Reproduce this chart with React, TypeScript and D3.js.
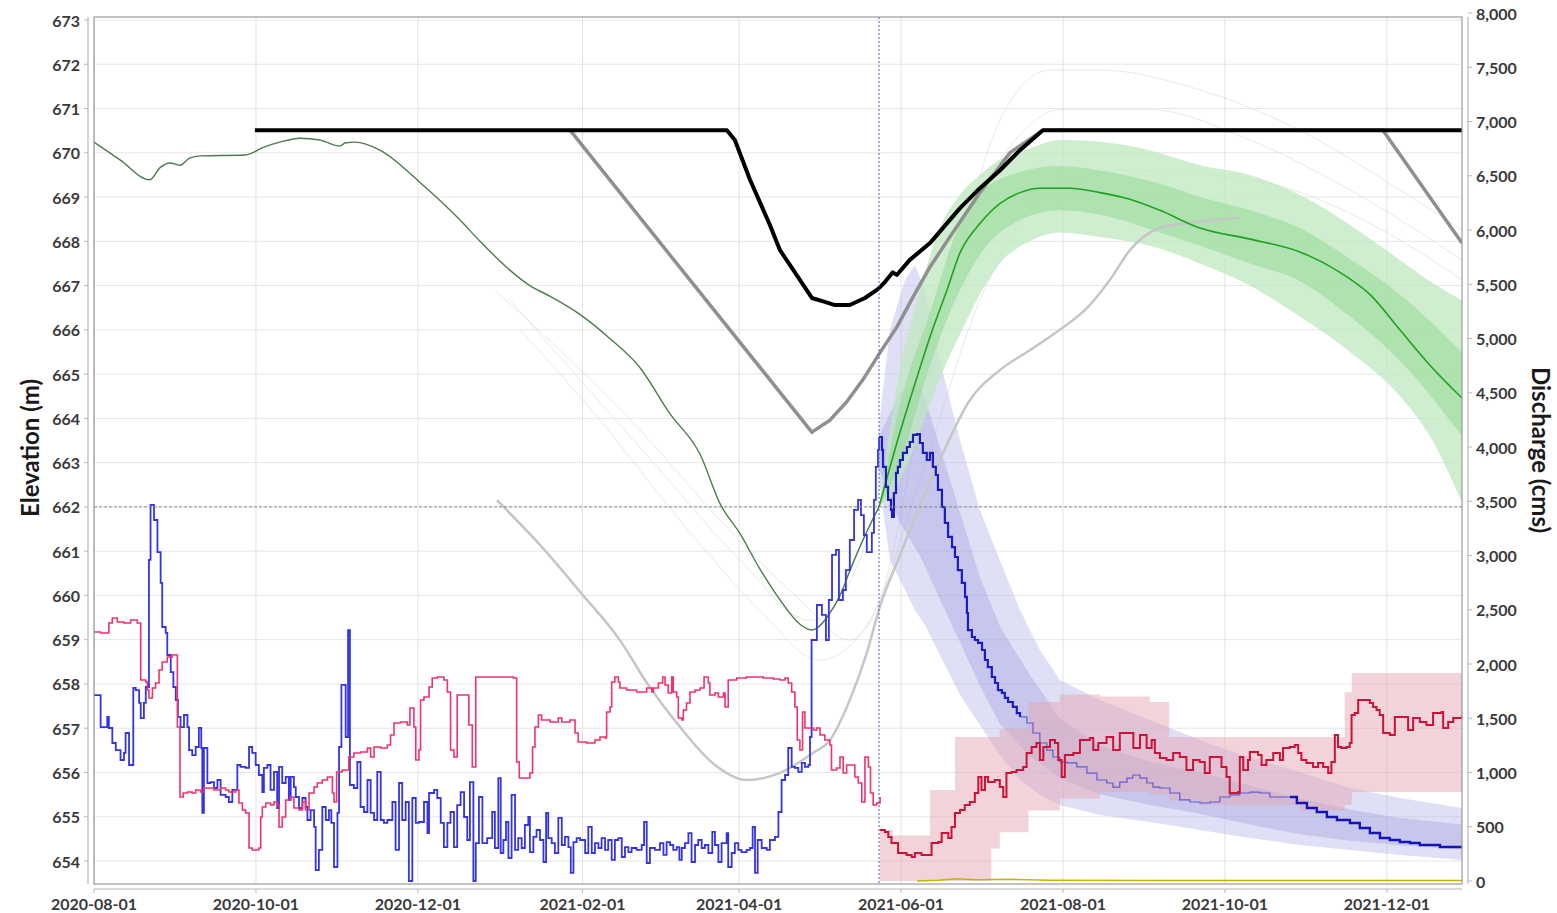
import React from "react";
import * as d3 from "d3";

type P = [number, number];
type B = [number, number, number];

const START = new Date(2020, 7, 1);
const END_DAY = 515.3;
const FORECAST_DAY = 295.7;
const REF_ELEV = 662;

const xTickDates = ["2020-08-01", "2020-10-01", "2020-12-01", "2021-02-01", "2021-04-01", "2021-06-01", "2021-08-01", "2021-10-01", "2021-12-01"];
const elevTicks = d3.range(654, 674);
const dischargeTicks = d3.range(0, 8001, 500);

// elevation (m) vs day offset
const elevObserved: P[] = [[0,670.24],[9.8,669.84],[21,669.39],[25,669.67],[28.6,669.77],[32.4,669.72],[36,669.88],[40,669.93],[57,669.95],[64,670.13],[70,670.24],[77.6,670.33],[85,670.29],[92.7,670.15],[94.5,670.22],[98.3,670.24],[107.7,670.06],[122.8,669.33],[137.9,668.48],[145.4,668.0],[164.2,667.0],[172,666.75],[183,666.35],[194.4,665.8],[205.6,665.15],[217,664.1],[228.2,663.2],[236,662.05],[243.3,661.4],[250.8,660.6],[258.4,659.9],[265.9,659.35],[270.4,659.22],[277.2,659.6],[281,660.0],[285,660.6],[290,661.3],[295.7,662.0]];
const elevMedian: P[] = [[295.7,662.0],[302.4,663.44],[308.5,664.64],[314.9,665.84],[321.3,666.9],[326.2,667.74],[333.7,668.4],[341.2,668.85],[348.8,669.1],[356.3,669.2],[367.6,669.2],[378.9,669.1],[390.2,668.95],[401.5,668.7],[416.6,668.3],[435.4,668.05],[454.2,667.76],[469.3,667.3],[480.6,666.8],[491.9,666.0],[503.2,665.2],[515.3,664.46]];
const elevBandOuter: B[] = [[295.7,662.0,662.0],[303.6,662.6,665.1],[311.1,663.7,666.9],[318.6,664.9,668.3],[326.2,665.9,669.05],[333.7,666.8,669.5],[341.2,667.5,669.84],[352.5,668.0,670.1],[363.8,668.2,670.29],[378.9,668.1,670.25],[397.7,667.9,670.06],[416.6,667.5,669.72],[435.4,667.0,669.5],[454.2,666.3,669.05],[473.1,665.5,668.37],[491.9,664.5,667.58],[503.2,663.6,667.1],[515.3,662.1,666.67]];
const elevBandInner: B[] = [[295.7,662.0,662.0],[303.6,663.0,664.3],[314.9,665.2,666.4],[326.2,666.9,668.4],[341.2,668.2,669.4],[363.8,668.7,669.7],[378.9,668.6,669.6],[401.5,668.2,669.3],[416.6,667.9,669.0],[435.4,667.5,668.7],[454.2,667.1,668.3],[473.1,666.3,667.6],[491.9,665.3,666.8],[515.3,663.6,665.5]];
const upperRuleCurve: P[] = [[60.6,670.51],[238.4,670.51],[241.4,670.29],[247.1,669.39],[254.6,668.37],[258.4,667.8],[265.9,667.13],[270.4,666.72],[275.3,666.63],[279.1,666.56],[284.7,666.56],[290.4,666.72],[295.3,666.92],[297.9,667.08],[300.9,667.3],[302.4,667.24],[307.3,667.58],[314.9,667.96],[326.2,668.75],[333.7,669.2],[341.2,669.6],[348.8,670.06],[357.4,670.51],[515.3,670.51]];
const lowerRuleCurve: P[] = [[179.3,670.51],[270.4,663.69],[277.2,663.96],[283.5,664.37],[289.6,664.87],[296.0,665.48],[302.4,666.06],[308.5,666.74],[314.9,667.42],[322.4,668.1],[333.7,669.1],[345,670.0],[357.4,670.51],[485.5,670.51],[515.3,667.96]];
const minimumCurve: P[] = [[151.8,662.15],[168,661.14],[183.1,660.08],[198.1,658.99],[208.3,658.02],[220.7,657.03],[233.1,656.21],[245.9,655.83],[258.4,655.99],[270.8,656.44],[277.2,656.73],[284.7,657.64],[291.1,658.7],[296,659.74],[303.6,660.91],[311.1,662.04],[318.6,663.06],[329.9,664.41],[341.2,665.09],[352.5,665.54],[363.8,666.0],[375.1,666.56],[382.7,667.13],[390.2,667.8],[401.5,668.3],[416.6,668.44],[431.6,668.53]];
const historic1: P[] = [[151,666.9],[175.5,665.54],[205.6,663.74],[235.8,661.7],[265.9,659.9],[284.7,658.99],[296,659.9],[311.1,663.96],[326.2,667.8],[341.2,670.74],[360.1,671.87],[378.9,671.87],[416.6,671.42],[454.2,670.51],[491.9,669.16],[515.3,668.26]];
const historic2: P[] = [[156.7,666.67],[183.1,664.87],[213.2,662.83],[243.3,660.8],[269.7,659.44],[288.5,660.8],[303.6,664.41],[322.4,667.8],[341.2,669.84],[363.8,670.97],[397.7,670.97],[435.4,670.29],[473.1,669.16],[515.3,667.58]];
const historic3: P[] = [[160.5,666.0],[190.6,663.96],[220.7,661.7],[250.8,659.67],[273.4,658.54],[292.3,659.44],[311.1,662.61],[333.7,666.67],[356.3,668.93],[386.4,669.61],[435.4,669.39],[491.9,668.03],[515.3,667.13]];

// discharge (cms) vs day offset
const inflowObserved: P[] = [[0,1714],[2.5,1419],[5,1512],[5.6,1410],[6.9,1272],[8.2,1207],[10,1115],[11.3,1180],[11.9,1364],[13.2,1069],[14.8,1779],[15.7,1760],[17,1641],[17.6,1502],[18.8,1641],[19.5,1788],[20.7,2959],[21.3,3466],[22.6,3327],[23.9,3032],[25.1,2747],[25.7,2341],[27,2286],[27.6,2083],[28.9,1926],[29.9,1788],[30.8,1668],[31.6,1512],[32.6,1419],[33.9,1530],[35.2,1419],[35.8,1207],[37,1161],[38.3,1235],[39.5,1410],[40.4,1226],[40.8,627],[41.4,1226],[42.7,903],[43.9,912],[45.2,857],[46.5,931],[47.7,793],[49.6,774],[50.8,728],[52.1,839],[54,1069],[55.2,1051],[57.1,1042],[58.4,1235],[59.6,1180],[60.9,1069],[62.1,977],[63.4,820],[64,1042],[65.3,1069],[66.5,839],[67.8,1005],[69,673],[69.7,1051],[70.9,903],[72.2,959],[73.4,747],[74.1,959],[75.3,866],[76,774],[77.2,673],[78.5,765],[79.7,682],[80.4,562],[81.6,654],[82.9,498],[83.5,101],[84.7,286],[86,682],[87.3,562],[88.5,654],[89.4,535],[90.4,129],[91.7,627],[92.3,1235],[93.2,1807],[94.8,1327],[95.7,2313],[96.4,885],[97.9,857],[99.2,1097],[100.4,682],[101.7,636],[103,931],[104.2,627],[105.5,562],[106.7,1005],[108,562],[109.2,535],[110.5,562],[112.4,728],[113.6,286],[114.9,903],[116.1,562],[117.4,728],[118.6,0],[119.9,765],[121.2,535],[122.4,544],[124.3,728],[125.6,442],[126.2,811],[128.1,839],[129.3,765],[130.6,535],[131.8,313],[133.1,535],[134.3,636],[135.6,313],[136.8,700],[138.1,820],[139.4,590],[140.6,378],[141.6,912],[142.9,0],[143.8,350],[145,774],[146.3,350],[148.1,396],[150,636],[151,304],[152.3,949],[153.2,258],[154.2,378],[155.2,544],[156.1,212],[157.3,793],[158.6,286],[159.8,396],[161.1,304],[162.3,516],[163.6,590],[164.2,267],[165.5,406],[166.7,470],[168,378],[169.3,175],[170.3,627],[171.1,396],[172.4,350],[173.6,258],[174.9,581],[176.2,332],[177.4,406],[178.7,313],[179.6,74],[180.6,359],[181.8,396],[183.1,378],[185,258],[186.2,498],[187.5,258],[188.7,350],[190,304],[191.2,396],[192.5,286],[193.7,378],[195,194],[196.2,378],[197.5,396],[198.8,221],[200,313],[201.3,267],[202.5,304],[204.4,286],[206.3,332],[207.2,544],[208.2,166],[209.4,304],[211.3,286],[213.2,350],[214.5,240],[215.7,359],[217,332],[218.2,286],[219.5,313],[220.5,194],[221.4,304],[222.6,350],[223.9,442],[225.1,175],[226.4,332],[227.6,378],[228.9,304],[230.1,332],[231.4,258],[232.9,452],[233.9,332],[235.2,175],[236.4,350],[238.3,442],[238.9,129],[240.2,258],[241.4,350],[242.7,286],[243.9,267],[245.8,286],[247.1,304],[248.1,498],[249,74],[250,378],[251.5,304],[253.4,286],[254.6,378],[256.5,406],[257.8,636],[259,931],[260.3,977],[261.5,1226],[262.8,1051],[264,1042],[265.3,1005],[266.6,1088],[267.8,1051],[269.1,1069],[269.7,1327],[270.3,2221],[272.3,2544],[274.2,2452],[275.7,2221],[276.8,2590],[278,3005],[279.5,3051],[280.6,2590],[282.1,2682],[283.2,2866],[284.7,3143],[286.3,3420],[287.8,3512],[288.9,3373],[290,3189],[291.1,3032],[293,3208],[293.8,3512],[294.5,3816],[295.3,3973],[295.7,4092]];
const inflowForecast: P[] = [[295.7,4092],[296.8,3973],[297.2,3816],[298.3,3632],[299.1,3512],[300.2,3420],[300.6,3355],[301.3,3576],[302.1,3761],[302.8,3816],[303.6,3880],[304.7,3945],[306.2,4000],[307.3,4046],[308.5,4111],[310,4120],[311.1,4037],[312.2,3945],[313.7,3880],[314.9,3945],[316,3816],[317.1,3742],[317.9,3604],[319.4,3447],[320.5,3300],[321.7,3171],[323.2,3078],[324.3,2986],[325.4,2866],[326.9,2747],[328.1,2618],[328.8,2470],[329.2,2313],[330.7,2249],[331.8,2221],[333,2194],[334.5,2129],[335.6,2037],[336.7,1972],[338.2,1880],[339.4,1825],[340.5,1760],[342,1733],[343.1,1687],[344.3,1650],[346.1,1604],[347.6,1548],[348.8,1512]];
const inflowForecastMid: P[] = [[348.8,1512],[351.4,1456],[353.7,1364],[356.3,1272],[358.9,1207],[361.2,1143],[363.8,1097],[366.5,1088],[370.2,1051],[374,995],[377.8,931],[381.5,903],[383.8,866],[386.4,912],[389.1,949],[391.3,977],[394,949],[396.6,903],[398.9,866],[401.5,857],[405.3,811],[409,747],[412.8,728],[416.6,719],[420.3,728],[424.1,774],[427.9,793],[431.6,811],[435.4,820],[439.2,811],[442.9,774],[446.7,774],[450.5,774]];
const inflowForecastEnd: P[] = [[450.5,774],[453.1,719],[456.9,673],[460.6,636],[464.4,590],[468.2,562],[473.1,535],[476.8,488],[480.6,442],[484.4,396],[488.1,378],[491.9,359],[495.7,350],[499.4,332],[503.2,332],[507,313],[510.7,313],[515.3,304]];
const inflowBandOuter: B[] = [[295.7,3700,4200],[299.8,2959,5079],[305.5,2682,5539],[309.2,2498,5678],[313,2360,5447],[318.6,2083,4802],[326.2,1714,4065],[333.7,1438,3420],[341.2,1161,2959],[348.8,931,2498],[356.3,793,2129],[363.8,700,1853],[378.9,608,1668],[397.7,544,1484],[416.6,470,1300],[435.4,396,1134],[454.2,332,1005],[473.1,286,857],[491.9,240,765],[515.3,194,673]];
const inflowBandInner: B[] = [[295.7,3800,4100],[303.6,3300,4500],[311.1,3000,4600],[318.6,2600,4000],[326.2,2200,3400],[333.7,1800,2800],[341.2,1450,2350],[352.5,1150,1900],[363.8,950,1500],[378.9,800,1250],[397.7,700,1100],[416.6,620,1000],[435.4,520,880],[454.2,430,760],[473.1,370,660],[491.9,330,580],[515.3,290,520]];
const outflowObserved: P[] = [[0,2295],[2.5,2286],[5.6,2378],[6.9,2424],[8.8,2387],[11.3,2378],[13.8,2406],[16.3,2378],[17.6,1853],[19.5,1834],[20.1,1760],[20.7,1687],[22,1779],[23.2,1825],[24.5,1945],[25.7,2019],[27.6,2065],[29.5,2083],[31.4,1419],[32.4,774],[33.6,811],[35.2,820],[37,811],[38.3,839],[40.2,820],[41.4,857],[45.2,839],[47.7,857],[49.6,839],[50.8,820],[53.4,839],[54.6,719],[55.9,654],[57.1,627],[58.4,304],[59.6,286],[62.1,304],[62.8,590],[63.4,682],[64.7,719],[66.5,700],[67.8,728],[69,700],[69.7,498],[70.9,590],[72.2,747],[74.1,774],[75.3,673],[77.2,654],[78.5,728],[79.7,654],[81,811],[82.9,866],[84.1,903],[86,931],[87.9,959],[89.8,811],[90.4,728],[91.4,1005],[93.5,1023],[96,1143],[97.9,1180],[100.4,1189],[103,1226],[104.2,1143],[105.5,1235],[108,1226],[110.5,1254],[111.7,1346],[113,1456],[115.5,1466],[118,1438],[119,1595],[120.5,1419],[121.2,1115],[122.4,1207],[123,1668],[124.3,1696],[126.2,1788],[127.4,1871],[129.3,1880],[131.8,1853],[133.1,1742],[134.3,1207],[135.6,1143],[136.8,1714],[139.4,1714],[141.2,1438],[142.5,1051],[143.8,1880],[158,1871],[159.2,1097],[160.2,949],[164.2,995],[165.2,1235],[166.1,1419],[167.4,1530],[168.6,1484],[171.8,1466],[174.9,1502],[176.2,1466],[179.3,1484],[181.2,1364],[182.4,1281],[185.6,1272],[188.7,1300],[190.6,1327],[192.5,1318],[193.1,1558],[194.4,1604],[195,1834],[196.2,1880],[197.5,1834],[198.1,1779],[200.6,1760],[204.4,1742],[208.2,1779],[210.1,1742],[210.7,1779],[212.6,1825],[214.2,1880],[215.1,1807],[216.3,1733],[217.6,1880],[218.2,1742],[219.5,1696],[220.1,1502],[221.4,1484],[222,1576],[223.2,1641],[224.5,1742],[226.4,1760],[228.3,1779],[229.8,1880],[231.4,1825],[232,1714],[233.9,1733],[235.2,1696],[237.1,1733],[237.7,1604],[238.9,1853],[240.8,1853],[242.1,1871],[245.8,1880],[252.1,1871],[255.9,1862],[258.4,1853],[260.3,1871],[261.5,1825],[262.8,1742],[264,1604],[264.9,1300],[265.9,1207],[266.9,1558],[267.8,1410],[271,1392],[272.2,1410],[273.5,1346],[275.3,1300],[277.2,1254],[277.8,1023],[279.7,1042],[281,1143],[282.2,995],[283.5,1069],[286.6,959],[287.9,903],[289.2,728],[290.4,1143],[291.7,1051],[292.5,811],[293.5,700],[294.8,719],[296.1,774]];
const outflowForecast: P[] = [[296,470],[297.9,452],[299.2,406],[300.4,350],[302.9,258],[306.1,240],[308,221],[309.2,258],[311.7,240],[313.6,240],[315.5,350],[318,359],[319.3,442],[321.8,396],[323,498],[324.3,627],[326.2,654],[328,700],[329.9,728],[331.8,811],[333.1,959],[334.3,839],[335.6,959],[336.8,912],[339.3,931],[341.2,866],[342.5,774],[343.7,995],[345.6,1005],[347.5,1023],[350,1051],[351.3,1180],[353.2,1235],[355,1272],[356.3,1115],[357.6,1235],[360.1,1300],[362,1272],[363.2,1115],[364.5,959],[365.7,1161],[368.9,1180],[371.4,1300],[375.1,1318],[376.4,1207],[378.3,1272],[381.4,1327],[383.9,1207],[386.4,1364],[390.2,1364],[391.5,1226],[394,1346],[396.5,1226],[398.4,1300],[399.6,1180],[401.5,1134],[404,1115],[406.5,1180],[409,1143],[411.5,1023],[414,1115],[416.5,1097],[418.4,995],[420.3,1143],[424.7,1051],[426.6,959],[427.8,811],[431,820],[431.6,1143],[432.9,1023],[434.7,1115],[435.4,1189],[438.5,1161],[439.8,1069],[441.6,1115],[444.2,1180],[446.7,1115],[447.9,1226],[450.4,1235],[452.3,1254],[453.6,1180],[454.8,1115],[456.7,1088],[459.2,1051],[461.1,1088],[463,1051],[464.9,995],[466.1,1097],[467.4,1346],[468.6,1235],[469.9,1226],[471.8,1235],[473,1272],[473.7,1530],[474.9,1548],[476.2,1668],[480.6,1641],[481.8,1604],[483.1,1576],[484.3,1530],[485.6,1364],[488.1,1346],[490,1512],[493.1,1512],[495,1392],[496.9,1502],[499.4,1466],[501.9,1438],[504.4,1548],[507.6,1558],[508.2,1410],[510.1,1466],[512,1502],[515.3,1530]];
const outflowBand: B[] = [[296,0,470],[300.9,0,420],[311.1,0,420],[314.9,0,839],[322.4,0,839],[324.3,0,1327],[333.7,0,1327],[338,300,1327],[341.2,450,1400],[352,650,1650],[363.8,760,1720],[378.9,820,1700],[397.7,800,1650],[405,740,1327],[416.6,700,1327],[454.2,650,1327],[469.3,650,1327],[471.1,700,1740],[473.8,820,1917],[515.3,820,1917]];
const spillFlow: P[] = [[310,0],[318,8],[325,20],[332,12],[345,15],[360,8],[400,5],[515.3,5]];

const PL = 94, PR = 1462, PT = 17, PB = 884;
const dayToDate = (d: number) => new Date(START.getTime() + d * 864e5);

export default function App() {
  const x = d3.scaleTime().domain([START, dayToDate(END_DAY)]).range([PL, PR]);
  const yL = d3.scaleLinear().domain([654, 673]).range([861, 20]);
  const yR = d3.scaleLinear().domain([0, 8000]).range([881, 13]);
  const fx = (d: number) => x(dayToDate(d));

  const lineL = d3.line<P>().x(d => fx(d[0])).y(d => yL(d[1]));
  const lineR = d3.line<P>().x(d => fx(d[0])).y(d => yR(d[1]));
  const stepR = d3.line<P>().x(d => fx(d[0])).y(d => yR(d[1])).curve(d3.curveStepAfter);
  const smoothL = d3.line<P>().x(d => fx(d[0])).y(d => yL(d[1])).curve(d3.curveMonotoneX);
  const areaL = d3.area<B>().x(d => fx(d[0])).y0(d => yL(d[1])).y1(d => yL(d[2])).curve(d3.curveMonotoneX);
  const areaR = d3.area<B>().x(d => fx(d[0])).y0(d => yR(d[1])).y1(d => yR(d[2]));
  const areaRStep = d3.area<B>().x(d => fx(d[0])).y0(d => yR(d[1])).y1(d => yR(d[2])).curve(d3.curveStepAfter);

  const font = "Lato, 'Open Sans', sans-serif";
  const tickColor = "#3a3a3a";
  const fxDate = d3.timeFormat("%Y-%m-%d");
  const tickDates = xTickDates.map(s => d3.timeParse("%Y-%m-%d")(s) as Date);
  const xF = x(dayToDate(FORECAST_DAY));

  return (
    <svg width={1557} height={913} style={{ position: "absolute", left: 0, top: 0, display: "block", background: "#fff" }}>
      <defs>
        <clipPath id="plot"><rect x={PL} y={PT} width={PR - PL} height={PB - PT} /></clipPath>
      </defs>
      {/* grid */}
      {elevTicks.map(t => (
        <line key={"gh" + t} x1={PL} x2={PR} y1={yL(t)} y2={yL(t)} stroke="#e6e6e6" strokeWidth={1} />
      ))}
      {tickDates.map((d, i) => (
        <line key={"gv" + i} x1={x(d)} x2={x(d)} y1={PT} y2={PB} stroke="#e2e2e2" strokeWidth={1} />
      ))}
      <g clipPath="url(#plot)">
        {[historic1, historic2, historic3].map((h, i) => (
          <path key={"h" + i} d={smoothL(h) || ""} fill="none" stroke="#d4d4d4" strokeWidth={1} opacity={0.5} />
        ))}
        <path d={areaR(inflowBandOuter) || ""} fill="#b8b8ea" opacity={0.45} />
        <path d={areaR(inflowBandInner) || ""} fill="#9c9cdc" opacity={0.35} />
        <path d={areaRStep(outflowBand) || ""} fill="#e6a8b4" opacity={0.5} />
        <path d={areaL(elevBandOuter) || ""} fill="#bfe8bf" opacity={0.75} />
        <path d={areaL(elevBandInner) || ""} fill="#94d894" opacity={0.55} />
        <path d={smoothL(minimumCurve) || ""} fill="none" stroke="#c6c6c6" strokeWidth={2.5} />
        <path d={lineL(lowerRuleCurve) || ""} fill="none" stroke="#8f8f8f" strokeWidth={3.5} />
        <path d={smoothL(elevObserved) || ""} fill="none" stroke="#4f7a4f" strokeWidth={1.4} />
        <path d={smoothL(elevMedian) || ""} fill="none" stroke="#22a022" strokeWidth={1.6} />
        <path d={stepR(inflowObserved) || ""} fill="none" stroke="#3434e4" strokeWidth={1.8} />
        <path d={stepR(inflowForecast) || ""} fill="none" stroke="#1c1cc4" strokeWidth={2.2} />
        <path d={stepR(inflowForecastMid) || ""} fill="none" stroke="#3b3bd0" strokeWidth={1.2} opacity={0.75} />
        <path d={stepR(inflowForecastEnd) || ""} fill="none" stroke="#1414b8" strokeWidth={2.4} />
        <path d={stepR(outflowObserved) || ""} fill="none" stroke="#f0336a" strokeWidth={1.6} />
        <path d={stepR(outflowForecast) || ""} fill="none" stroke="#cc1238" strokeWidth={2} />
        <path d={lineR(spillFlow) || ""} fill="none" stroke="#c8b400" strokeWidth={1.5} />
        <path d={lineL(upperRuleCurve) || ""} fill="none" stroke="#000" strokeWidth={4} strokeLinejoin="round" />
        <line x1={PL} x2={PR} y1={yL(REF_ELEV)} y2={yL(REF_ELEV)} stroke="#8a8a8a" strokeWidth={1} strokeDasharray="3,2" />
        <line x1={xF} x2={xF} y1={PT} y2={PB} stroke="#5060c8" strokeWidth={1} strokeDasharray="2,2" />
      </g>
      {/* plot border */}
      <rect x={PL} y={PT} width={PR - PL} height={PB - PT} fill="none" stroke="#9a9a9a" strokeWidth={1.2} />
      {/* left axis */}
      <line x1={88} x2={88} y1={PT} y2={PB} stroke="#b8b8b8" strokeWidth={1.2} />
      {elevTicks.map(t => (
        <g key={"l" + t}>
          <line x1={84} x2={88} y1={yL(t)} y2={yL(t)} stroke="#b8b8b8" />
          <text x={80} y={yL(t)} textAnchor="end" dominantBaseline="central" fontFamily={font} fontWeight={700} fontSize={16} fill={tickColor}>{t}</text>
        </g>
      ))}
      {/* right axis */}
      <line x1={1468} x2={1468} y1={PT} y2={PB} stroke="#b8b8b8" strokeWidth={1.2} />
      {dischargeTicks.map(t => (
        <g key={"r" + t}>
          <line x1={1468} x2={1472} y1={yR(t)} y2={yR(t)} stroke="#b8b8b8" />
          <text x={1476} y={yR(t)} textAnchor="start" dominantBaseline="central" fontFamily={font} fontWeight={700} fontSize={16} fill={tickColor}>{d3.format(",")(t)}</text>
        </g>
      ))}
      {/* bottom axis */}
      <line x1={PL} x2={PR} y1={889} y2={889} stroke="#b8b8b8" strokeWidth={1.2} />
      {tickDates.map((d, i) => (
        <g key={"b" + i}>
          <line x1={x(d)} x2={x(d)} y1={889} y2={893} stroke="#b8b8b8" />
          <text x={x(d)} y={903} textAnchor="middle" dominantBaseline="central" fontFamily={font} fontWeight={700} fontSize={16} fill={tickColor}>{fxDate(d)}</text>
        </g>
      ))}
      <text transform="translate(29,448) rotate(-90)" textAnchor="middle" dominantBaseline="central" fontFamily={font} fontWeight={700} fontSize={24} fill="#1a1a1a">Elevation (m)</text>
      <text transform="translate(1541,450) rotate(90)" textAnchor="middle" dominantBaseline="central" fontFamily={font} fontWeight={700} fontSize={24} fill="#1a1a1a">Discharge (cms)</text>
    </svg>
  );
}
